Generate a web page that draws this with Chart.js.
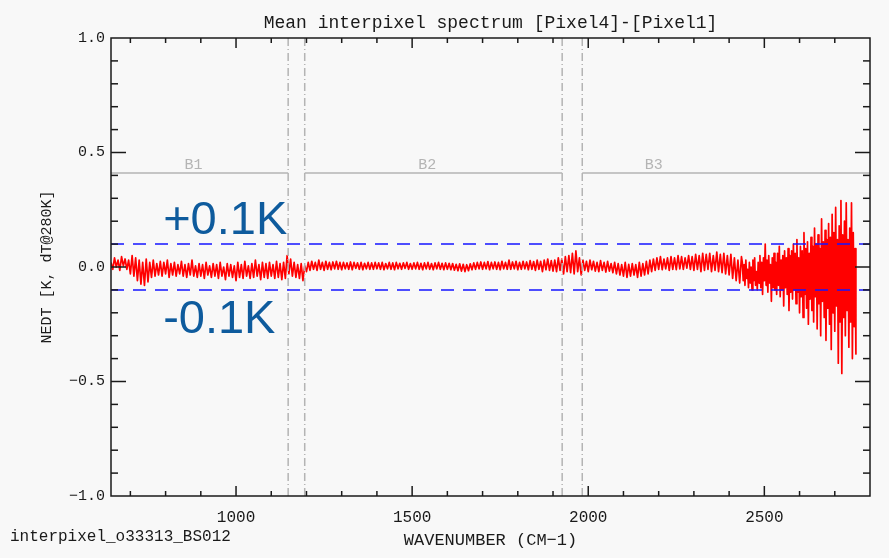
<!DOCTYPE html>
<html>
<head>
<meta charset="utf-8">
<title>Mean interpixel spectrum</title>
<script src="https://cdn.jsdelivr.net/npm/chart.js@4"></script>
<style>
  html, body { margin: 0; padding: 0; background: #f8f8f8; }
  #wrap { width: 889px; height: 558px; }
</style>
</head>
<body>
<div id="wrap"><canvas id="chart1" width="889" height="558"></canvas></div>
<script>
// Rejilla espectral (cm-1): inicio y paso de cada tramo
const B1_START = 645;
const B2_START = 1200;
const B3_START = 1985;
const WN_STEP = 5;
const RUIDO_START = 2437.5;
const RUIDO_STEP = 2.5;

// NEDT [K] Pixel4 - Pixel1, tramo B1 (645-1195)
const nedtB1 = [
  0.02, -0.01, 0.04, 0.0, 0.03, -0.015, 0.045, 0.005, 0.035, -0.01,
  0.03, -0.03, 0.05, -0.04, 0.04, -0.06, 0.03, -0.075, 0.02, -0.08,
  0.035, -0.065, 0.02, -0.045, 0.03, -0.04, 0.015, -0.035, 0.025, -0.04,
  0.02, -0.03, 0.03, -0.045, 0.015, -0.035, 0.02, -0.04, 0.01, -0.03,
  0.025, -0.04, 0.01, -0.045, 0.015, -0.035, 0.03, -0.04, 0.005, -0.045,
  0.015, -0.04, 0.01, -0.05, 0.02, -0.035, 0.005, -0.045, 0.015, -0.04,
  0.01, -0.05, 0.02, -0.04, 0.0, -0.055, 0.015, -0.04, 0.01, -0.045,
  0.005, -0.06, 0.02, -0.045, 0.01, -0.05, 0.025, -0.04, 0.005, -0.05,
  0.015, -0.045, 0.03, -0.04, 0.01, -0.055, 0.02, -0.045, 0.015, -0.05,
  0.02, -0.04, 0.01, -0.05, 0.025, -0.045, 0.015, -0.055, 0.02, -0.05,
  0.05, -0.03, 0.035, -0.04, 0.02, -0.045, 0.01, -0.05, 0.015, -0.06,
  0.005,
];

// tramo B2 (1200-1980)
const nedtB2 = [
  -0.02, 0.02, -0.015, 0.025, -0.01, 0.02, -0.015, 0.03, -0.01, 0.02,
  -0.015, 0.025, -0.01, 0.02, -0.012, 0.022, -0.008, 0.025, -0.01, 0.02,
  -0.012, 0.02, -0.008, 0.018, -0.01, 0.022, -0.012, 0.02, -0.006, 0.018,
  -0.01, 0.02, -0.012, 0.016, -0.008, 0.02, -0.01, 0.018, -0.01, 0.02,
  -0.008, 0.018, -0.01, 0.02, -0.012, 0.015, -0.008, 0.02, -0.01, 0.018,
  -0.012, 0.02, -0.008, 0.016, -0.01, 0.018, -0.006, 0.02, -0.01, 0.015,
  -0.01, 0.018, -0.008, 0.02, -0.01, 0.016, -0.012, 0.018, -0.008, 0.02,
  -0.01, 0.015, -0.012, 0.018, -0.008, 0.02, -0.01, 0.016, -0.012, 0.018,
  -0.01, 0.016, -0.012, 0.015, -0.014, 0.012, -0.016, 0.014, -0.018, 0.012,
  -0.02, 0.01, -0.016, 0.014, -0.012, 0.018, -0.01, 0.02, -0.008, 0.022,
  -0.01, 0.02, -0.008, 0.024, -0.012, 0.02, -0.008, 0.022, -0.01, 0.02,
  -0.012, 0.025, -0.008, 0.02, -0.01, 0.03, -0.01, 0.022, -0.008, 0.025,
  -0.012, 0.02, -0.01, 0.025, -0.008, 0.022, -0.012, 0.028, -0.01, 0.024,
  -0.015, 0.03, -0.01, 0.025, -0.02, 0.03, -0.012, 0.035, -0.015, 0.028,
  -0.018, 0.03, -0.02, 0.04, -0.015, 0.035, -0.03, 0.045, -0.02, 0.05,
  -0.025, 0.06, -0.03, 0.07, -0.02, 0.04,
  -0.035,
];

// tramo B3 (1985-2435)
const nedtB3 = [
  0.03, -0.015, 0.025, -0.02, 0.03, -0.012, 0.025, -0.018, 0.02, -0.02,
  0.028, -0.015, 0.02, -0.022, 0.025, -0.018, 0.015, -0.025, 0.02, -0.03,
  0.015, -0.035, 0.01, -0.04, 0.02, -0.045, 0.012, -0.04, 0.015, -0.035,
  0.01, -0.045, 0.02, -0.04, 0.015, -0.035, 0.025, -0.03, 0.03, -0.02,
  0.035, -0.015, 0.04, -0.01, 0.045, -0.012, 0.035, -0.008, 0.04, -0.015,
  0.045, -0.01, 0.04, -0.012, 0.05, -0.008, 0.045, -0.01, 0.04, -0.005,
  0.05, -0.01, 0.045, -0.015, 0.055, -0.01, 0.05, -0.02, 0.06, -0.015,
  0.055, -0.01, 0.06, -0.02, 0.05, -0.015, 0.065, -0.02, 0.055, -0.025,
  0.06, -0.03, 0.05, -0.035, 0.055, -0.05, 0.04, -0.06, 0.03, -0.07,
  0.045,
];

// final de B3 (2437.5-2760), muestreo más fino: zona de mucho ruido
const nedtB3Ruido = [
  0.02, -0.06, 0.01, -0.08, 0.03, -0.05, -0.01, -0.09, 0.02, -0.07,
  0.0, -0.1, 0.03, -0.06, 0.04, -0.08, -0.02, -0.1, 0.02, -0.07,
  0.05, -0.09, 0.02, -0.12, 0.04, -0.06, 0.1, -0.08, 0.03, -0.11,
  0.05, -0.07, 0.01, -0.15, 0.04, -0.09, 0.06, -0.1, 0.02, -0.12,
  0.06, -0.08, 0.09, -0.13, 0.03, -0.1, 0.05, -0.17, 0.07, -0.09,
  0.04, -0.12, 0.08, -0.19, 0.05, -0.11, 0.07, -0.14, 0.1, -0.1,
  0.06, -0.16, 0.12, -0.11, 0.04, -0.2, 0.09, -0.13, 0.07, -0.22,
  0.15, -0.12, 0.08, -0.18, 0.11, -0.25, 0.06, -0.14, 0.13, -0.19,
  0.09, -0.24, 0.17, -0.13, 0.1, -0.27, 0.14, -0.16, 0.08, -0.3,
  0.21, -0.15, 0.11, -0.22, 0.16, -0.32, 0.12, -0.18, 0.19, -0.25,
  0.13, -0.36, 0.23, -0.2, 0.15, -0.28, 0.26, -0.17, 0.12, -0.42,
  0.18, -0.24, 0.29, -0.465, 0.14, -0.22, 0.2, -0.3, 0.28, -0.19,
  0.12, -0.35, 0.17, -0.24, 0.28, -0.4, 0.15, -0.26, 0.08, -0.38,
];

// Bandas del instrumento
const BAND_NAMES = ["B1", "B2", "B3"];
const BAND_LABEL_WN = [879, 1543, 2186];
const BAND_FROM = [645, 1195, 1983];
const BAND_TO = [1148, 1926, 2800];
const BAND_LEVEL = 0.41;
const BAND_LABEL_LEVEL = 0.445;
const SEPARATORS_WN = [1148, 1195, 1926, 1983];

// Umbral de +-0.1 K
const THRESHOLDS = [0.1, -0.1];
const THRESHOLD_TEXT = ["+0.1K", "-0.1K"];
const THRESHOLD_TEXT_WN = 793;
const THRESHOLD_TEXT_LEVEL = [0.143, -0.289];

// Ejes
const X_MIN = 645, X_MAX = 2800;
const Y_MIN = -1, Y_MAX = 1;
const X_LABELS = [1000, 1500, 2000, 2500];
const Y_LABELS = [-1, -0.5, 0, 0.5, 1];
const X_MINOR_STEP = 100;
const Y_MINOR_STEP = 0.1;

const TITLE = "Mean interpixel spectrum [Pixel4]-[Pixel1]";
const X_TITLE = "WAVENUMBER (CM\u22121)";
const Y_TITLE = "NEDT [K, dT@280K]";
const FILE_TAG = "interpixel_o33313_BS012";

const FONT_IDL = "'Liberation Mono', 'DejaVu Sans Mono', monospace";
const INK = "#1a1a1a";
const GRIS = "#b4b4b4";

function tramo(start, step, valores) {
  return valores.map((v, i) => ({ x: start + i * step, y: v }));
}

const espectro = [
  ...tramo(B1_START, WN_STEP, nedtB1),
  ...tramo(B2_START, WN_STEP, nedtB2),
  ...tramo(B3_START, WN_STEP, nedtB3),
  ...tramo(RUIDO_START, RUIDO_STEP, nedtB3Ruido),
];

function lineaGris(puntos, dash) {
  return {
    data: puntos,
    borderColor: GRIS,
    borderWidth: 1.5,
    borderDash: dash || [],
    pointRadius: 0,
    order: 2,
  };
}

const datasets = [];

// Espectro
datasets.push({
  data: espectro,
  borderColor: "#ff0000",
  borderWidth: 1.7,
  borderJoinStyle: "round",
  pointRadius: 0,
  tension: 0,
  order: 3,
});

// Líneas de umbral
THRESHOLDS.forEach((t) => {
  datasets.push({
    data: [{ x: X_MIN, y: t }, { x: X_MAX, y: t }],
    borderColor: "#1414ff",
    borderWidth: 1.5,
    borderDash: [13, 9],
    pointRadius: 0,
    order: 1,
  });
});

// Límites de banda
BAND_FROM.forEach((from, i) => {
  datasets.push(lineaGris([{ x: from, y: BAND_LEVEL }, { x: BAND_TO[i], y: BAND_LEVEL }]));
});
SEPARATORS_WN.forEach((wn) => {
  datasets.push(lineaGris([{ x: wn, y: Y_MIN }, { x: wn, y: Y_MAX }], [8, 3, 1, 3]));
});

// Marco, ticks interiores y textos al estilo IDL
const marcoIDL = {
  id: "marcoIDL",
  beforeDraw(chart) {
    const ctx = chart.ctx;
    ctx.save();
    ctx.fillStyle = "#f8f8f8";
    ctx.fillRect(0, 0, chart.width, chart.height);
    ctx.restore();
  },
  afterDraw(chart) {
    const { ctx, chartArea: a, scales } = chart;
    const x = scales.x, y = scales.y;
    ctx.save();
    ctx.strokeStyle = INK;
    ctx.lineWidth = 1.5;
    ctx.strokeRect(a.left, a.top, a.right - a.left, a.bottom - a.top);

    const seg = (x0, y0, x1, y1) => {
      ctx.beginPath();
      ctx.moveTo(x0, y0);
      ctx.lineTo(x1, y1);
      ctx.stroke();
    };

    for (let v = Math.ceil(X_MIN / X_MINOR_STEP) * X_MINOR_STEP; v < X_MAX; v += X_MINOR_STEP) {
      const px = x.getPixelForValue(v);
      const len = v % 500 === 0 ? 10 : 5;
      seg(px, a.bottom, px, a.bottom - len);
      seg(px, a.top, px, a.top + len);
    }
    for (let k = -9; k <= 9; k++) {
      const py = y.getPixelForValue(k * Y_MINOR_STEP);
      const len = k % 5 === 0 ? 15 : 7;
      seg(a.left, py, a.left + len, py);
      seg(a.right, py, a.right - len, py);
    }

    ctx.fillStyle = INK;
    ctx.textAlign = "center";
    ctx.textBaseline = "alphabetic";
    ctx.font = "18px " + FONT_IDL;
    ctx.fillText(TITLE, (a.left + a.right) / 2, 28);

    ctx.font = "17px " + FONT_IDL;
    ctx.fillText(X_TITLE, (a.left + a.right) / 2, 545);

    ctx.textAlign = "left";
    ctx.font = "16px " + FONT_IDL;
    ctx.fillText(FILE_TAG, 10, 541);

    ctx.save();
    ctx.translate(47, (a.top + a.bottom) / 2);
    ctx.rotate(-Math.PI / 2);
    ctx.textAlign = "center";
    ctx.textBaseline = "middle";
    ctx.font = "15px " + FONT_IDL;
    ctx.fillText(Y_TITLE, 0, 0);
    ctx.restore();

    // Nombres de banda
    ctx.fillStyle = GRIS;
    ctx.textAlign = "center";
    ctx.textBaseline = "middle";
    ctx.font = "15px " + FONT_IDL;
    BAND_NAMES.forEach((n, i) => {
      ctx.fillText(n, x.getPixelForValue(BAND_LABEL_WN[i]), y.getPixelForValue(BAND_LABEL_LEVEL));
    });

    // Rótulos de umbral
    ctx.fillStyle = "#0e5b9d";
    ctx.textAlign = "left";
    ctx.textBaseline = "alphabetic";
    ctx.font = "47px 'Liberation Sans', Arial, sans-serif";
    THRESHOLD_TEXT.forEach((t, i) => {
      ctx.fillText(t, x.getPixelForValue(THRESHOLD_TEXT_WN), y.getPixelForValue(THRESHOLD_TEXT_LEVEL[i]));
    });
    ctx.restore();
  },
};

const ctx1 = document.getElementById("chart1").getContext("2d");
new Chart(ctx1, {
  type: "line",
  data: { datasets },
  options: {
    responsive: false,
    animation: false,
    parsing: true,
    layout: { padding: { left: 0, right: 19, top: 38, bottom: 0 } },
    plugins: {
      legend: { display: false },
      tooltip: { enabled: false },
      title: { display: false },
    },
    scales: {
      x: {
        type: "linear",
        min: X_MIN,
        max: X_MAX,
        grid: { display: false, drawTicks: false },
        border: { display: false },
        afterBuildTicks: (s) => { s.ticks = X_LABELS.map((v) => ({ value: v })); },
        afterFit: (s) => { s.height = 62; },
        ticks: {
          padding: 12,
          maxRotation: 0,
          color: INK,
          font: { family: FONT_IDL, size: 16 },
          callback: (v) => String(v),
        },
      },
      y: {
        type: "linear",
        min: Y_MIN,
        max: Y_MAX,
        grid: { display: false, drawTicks: false },
        border: { display: false },
        afterBuildTicks: (s) => { s.ticks = Y_LABELS.map((v) => ({ value: v })); },
        afterFit: (s) => { s.width = 111; },
        ticks: {
          padding: 6,
          color: INK,
          font: { family: FONT_IDL, size: 15 },
          callback: (v) => (v < 0 ? "\u2212" : "") + Math.abs(v).toFixed(1),
        },
      },
    },
  },
  plugins: [marcoIDL],
});
</script>
</body>
</html>
